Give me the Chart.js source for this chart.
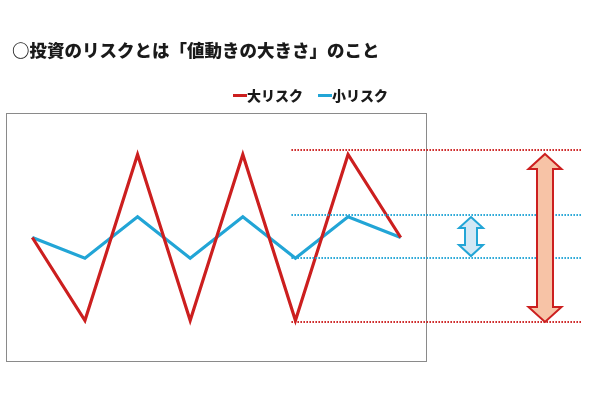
<!DOCTYPE html>
<html><head><meta charset="utf-8">
<script src="https://cdn.jsdelivr.net/npm/chart.js@4"></script>
<style>html,body{margin:0;padding:0;background:#fff}#w{width:600px;height:400px}</style>
</head><body><div id="w"><canvas id="c"></canvas></div>
<script>
const titleText = '○投資のリスクとは「値動きの大きさ」のこと';
const categories = ['1','2','3','4','5','6','7','8'];
const bigRisk = [0, -4, 4, -4, 4, -4, 4, 0];
const smallRisk = [0, -1, 1, -1, 1, -1, 1, 0];
const seriesNames = ['大リスク', '小リスク'];
const seriesColors = ['#cc1f1f', '#22a5d6'];
const bigRange = [4.22, -4.07];
const smallRange = [1.08, -0.99];

const FONT = '"Noto Sans CJK JP", "Noto Sans", sans-serif';

function doubleArrow(ctx, cx, top, bottom, shaftW, headW, headH, fill, stroke) {
  ctx.save();
  ctx.beginPath();
  ctx.moveTo(cx, top);
  ctx.lineTo(cx + headW / 2, top + headH);
  ctx.lineTo(cx + shaftW / 2, top + headH);
  ctx.lineTo(cx + shaftW / 2, bottom - headH);
  ctx.lineTo(cx + headW / 2, bottom - headH);
  ctx.lineTo(cx, bottom);
  ctx.lineTo(cx - headW / 2, bottom - headH);
  ctx.lineTo(cx - shaftW / 2, bottom - headH);
  ctx.lineTo(cx - shaftW / 2, top + headH);
  ctx.lineTo(cx - headW / 2, top + headH);
  ctx.closePath();
  ctx.fillStyle = fill;
  ctx.fill();
  ctx.lineWidth = 2;
  ctx.lineJoin = 'miter';
  ctx.strokeStyle = stroke;
  ctx.stroke();
  ctx.restore();
}

const decor = {
  id: 'decor',
  beforeDatasetsDraw(chart) {
    const {ctx, chartArea: a} = chart;
    ctx.save();
    ctx.strokeStyle = '#8a8a8a';
    ctx.lineWidth = 1;
    ctx.strokeRect(a.left + 0.5, a.top + 0.5, a.right - a.left - 1, a.bottom - a.top - 1);
    ctx.restore();
  },
  afterDraw(chart) {
    const {ctx, chartArea: a, scales: {x, y}} = chart;
    // title
    ctx.save();
    ctx.fillStyle = '#1a1a1a';
    ctx.font = '900 17.5px ' + FONT;
    ctx.textBaseline = 'middle';
    ctx.textAlign = 'left';
    ctx.fillText(titleText, 12, 50);
    // legend
    ctx.font = '900 14px ' + FONT;
    const lx = [233, 318];
    seriesNames.forEach((n, i) => {
      ctx.fillStyle = seriesColors[i];
      ctx.fillRect(lx[i], 94, 14, 3);
      ctx.fillStyle = '#1a1a1a';
      ctx.fillText(n, lx[i] + 14, 96);
    });
    // dotted reference lines
    const x0 = x.getPixelForValue(5) - 4;
    const x1 = a.right + 155;
    ctx.lineWidth = 2;
    ctx.setLineDash([1.5, 1.5]);
    [[bigRange, seriesColors[0]], [smallRange, seriesColors[1]]].forEach(([r, c]) => {
      ctx.strokeStyle = c;
      r.forEach(v => {
        const py = Math.round(y.getPixelForValue(v));
        ctx.beginPath();
        ctx.moveTo(x0, py);
        ctx.lineTo(x1, py);
        ctx.stroke();
      });
    });
    ctx.setLineDash([]);
    ctx.restore();
    // arrows
    doubleArrow(ctx, a.right + 118, y.getPixelForValue(bigRange[0]) + 4, y.getPixelForValue(bigRange[1]),
      16, 33, 15, '#f7c3a6', '#cc1f1f');
    doubleArrow(ctx, a.right + 44, y.getPixelForValue(smallRange[0]) + 2, y.getPixelForValue(smallRange[1]) - 2,
      12, 24, 11, '#d3e8f5', '#22a5d6');
  }
};

new Chart(document.getElementById('c'), {
  type: 'line',
  data: {
    labels: categories,
    datasets: [
      {label: seriesNames[0], data: bigRisk, borderColor: seriesColors[0], borderWidth: 3.2, pointRadius: 0, tension: 0, fill: false},
      {label: seriesNames[1], data: smallRisk, borderColor: seriesColors[1], borderWidth: 3.2, pointRadius: 0, tension: 0, fill: false}
    ]
  },
  options: {
    responsive: true,
    maintainAspectRatio: false,
    animation: false,
    layout: {padding: {left: 6, right: 173, top: 113, bottom: 38}},
    plugins: {legend: {display: false}, title: {display: false}, tooltip: {enabled: false}},
    scales: {
      x: {display: false, offset: true},
      y: {display: false, min: -6, max: 6}
    }
  },
  plugins: [decor]
});
</script>
</body></html>
